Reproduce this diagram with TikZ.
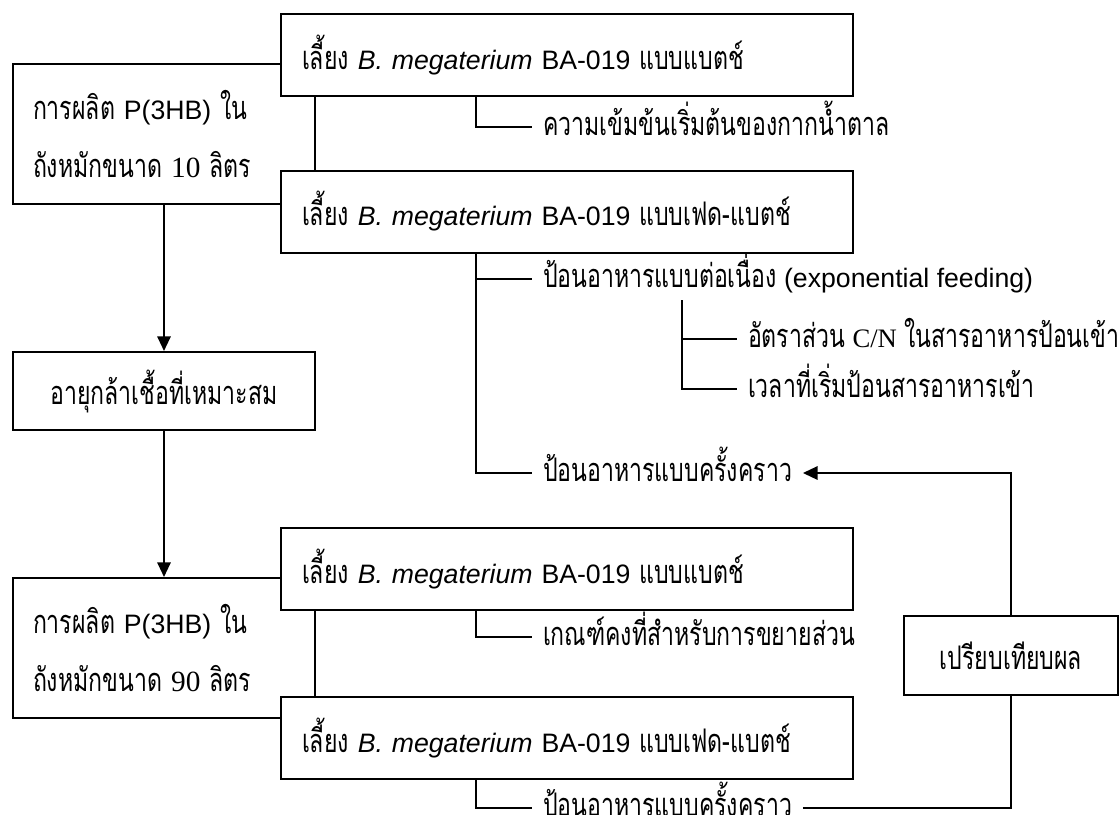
\documentclass[tikz,border=0pt]{standalone}
\usepackage{fontspec}
\setmainfont{Liberation Sans}
\newfontfamily\thai[Script=Thai,Scale=1.22,FakeStretch=0.71]{Loma}
\newfontfamily\tserif{Liberation Serif}
\usetikzlibrary{arrows.meta}
\newcommand\T[1]{{\thai #1}}
\newcommand\D[1]{{\tserif\fontsize{22}{43}\selectfont #1}}
\begin{document}
\begin{tikzpicture}[x=0.75pt,y=-0.75pt,line width=1.5pt,
  box/.style={draw,fill=white,inner ysep=0pt,font=\fontsize{20}{24}\selectfont},
  bbox/.style={box,text width=397.5pt,inner xsep=15.75pt,align=left,minimum height=61.5pt},
  lbox/.style={box,text width=196.5pt,inner xsep=15pt,align=left,minimum height=105pt,font=\fontsize{20}{43}\selectfont},
  cbox/.style={box,align=center},
  lab/.style={anchor=west,inner xsep=7.5pt,inner ysep=0pt,text height=12.75pt,text depth=0pt,font=\fontsize{20}{24}\selectfont},
  arr/.style={-{Triangle[length=11pt,width=10pt]}}]
\useasboundingbox (0,0) rectangle (1120,814);
% left boxes (drawn first, partly covered)
\node[lbox] (L1) at (164,134) {\T{การผลิต} P(3HB) \T{ใน}\\\T{ถังหมักขนาด} \D{10} \T{ลิตร}};
\node[lbox] (L2) at (164,648) {\T{การผลิต} P(3HB) \T{ใน}\\\T{ถังหมักขนาด} \D{90} \T{ลิตร}};
\node[cbox,minimum width=226.5pt,minimum height=58.5pt] (A) at (164,391) {\T{อายุกล้าเชื้อที่เหมาะสม}};
% culture boxes
\node[bbox] (B1) at (567,55) {\T{เลี้ยง} \textit{B. megaterium} BA-019 \T{แบบแบตช์}};
\node[bbox] (F1) at (567,211.5) {\T{เลี้ยง} \textit{B. megaterium} BA-019 \T{แบบเฟด-แบตช์}};
\node[bbox] (B2) at (567,569) {\T{เลี้ยง} \textit{B. megaterium} BA-019 \T{แบบแบตช์}};
\node[bbox] (F2) at (567,738) {\T{เลี้ยง} \textit{B. megaterium} BA-019 \T{แบบเฟด-แบตช์}};
\node[cbox,minimum width=160.5pt,minimum height=59.25pt] (C) at (1011,655.5) {\T{เปรียบเทียบผล}};
% labels
\node[lab] (lab1) at (532,127) {\T{ความเข้มข้นเริ่มต้นของกากน้ำตาล}};
\node[lab] (lab2) at (532,279) {\T{ป้อนอาหารแบบต่อเนื่อง} (exponential feeding)};
\node[lab] (lab3) at (737,339) {\T{อัตราส่วน} {\tserif C/N} \T{ในสารอาหารป้อนเข้า}};
\node[lab] (lab4) at (737,389) {\T{เวลาที่เริ่มป้อนสารอาหารเข้า}};
\node[lab] (lab5) at (532,473) {\T{ป้อนอาหารแบบครั้งคราว}};
\node[lab] (lab6) at (532,637) {\T{เกณฑ์คงที่สำหรับการขยายส่วน}};
\node[lab] (lab7) at (532,808) {\T{ป้อนอาหารแบบครั้งคราว}};
\coordinate (sv) at (682,300);
% connectors
\draw[arr] (L1.south) -- (A.north);
\draw[arr] (A.south) -- (L2.north);
\draw (B1.south west) ++(196,0) |- (lab1.west);
\draw (F1.south west) ++(196,0) |- (lab2.west);
\draw (F1.south west) ++(196,0) |- (lab5.west);
\draw (sv) |- (lab3.west);
\draw (sv) |- (lab4.west);
\draw (B2.south west) ++(196,0) |- (lab6.west);
\draw (F2.south west) ++(196,0) |- (lab7.west);
\draw (lab7.east) -| (C.south);
\draw[arr] (C.north) |- (lab5.east);
\end{tikzpicture}
\end{document}
